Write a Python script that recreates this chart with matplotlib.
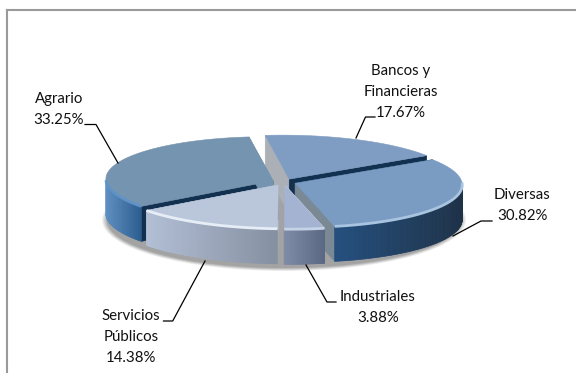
import numpy as np
import matplotlib
matplotlib.use("Agg")
import matplotlib.pyplot as plt
from matplotlib.patches import Polygon, Ellipse
from matplotlib.colors import to_rgb

categories = ["Bancos y\nFinancieras", "Diversas", "Industriales", "Servicios\nPúblicos", "Agrario"]
shares = [17.67, 30.82, 3.88, 14.38, 33.25]
value_labels = ["17.67%", "30.82%", "3.88%", "14.38%", "33.25%"]

top_colors = ["#7f9cc2", "#7a9cc2", "#a4b3d1", "#bac7da", "#7594b0"]
rim_colors = ["#8fa9cc", "#a8c4e0", "#c5d2e8", "#e6edf7", "#5f93c8"]
wall_left = ["#7f9cc2", "#24507f", "#7f8ca6", "#b3c0d6", "#5f8fc2"]
wall_right = ["#6f8cb2", "#1e3248", "#5a6884", "#858fa2", "#2a5c8e"]
start_wall = ["#aab0b6", "#12304f", "#f4f6fa", "#aab8cf", "#12304f"]
end_wall = ["#12304f", "#7b8995", "#8fa0bf", "#8f9bb0", "#7594b0"]

plt.rcParams["font.family"] = ["Lato", "DejaVu Sans"]
W, H = 576, 373
fig = plt.figure(figsize=(W / 100, H / 100), dpi=100, facecolor="white")
ax = fig.add_axes([0, 0, 1, 1])
ax.set_xlim(0, W)
ax.set_ylim(H, 0)
ax.axis("off")

CX, CY, RX, RY, DEPTH, EXPL, SKEW = 284, 182, 167, 44, 35, 0.072, 0.15
START = -6.0


def pt(theta, r=1.0, off=(0, 0), dz=0):
    t = np.radians(theta)
    dy = -r * RY * np.cos(t)
    return np.array([off[0] + CX + r * RX * np.sin(t) + SKEW * dy,
                     off[1] + CY + dy + dz])


# frame, open on the right and bottom as in the reference
ax.plot([7, 7], [H, 10], color="#9a9a9a", lw=1.5, zorder=0)
ax.plot([7, W], [10, 10], color="#9a9a9a", lw=1.5, zorder=0)

# soft ground shadow
for i, a in zip(range(6), [0.10, 0.12, 0.14, 0.16, 0.2, 0.25]):
    ax.add_patch(Ellipse((CX, CY + DEPTH + 3), 2 * (RX + 15 - i), 2 * (RY + 7 - i * 0.6),
                         fc="#777777", ec="none", alpha=a, zorder=1))

edges = START + np.cumsum([0] + shares) * 3.6
order = [0, 4, 1, 3, 2]

z = 2
for i in order:
    a0, a1 = edges[i], edges[i + 1]
    mid = np.radians((a0 + a1) / 2)
    off = (EXPL * RX * np.sin(mid), -EXPL * RY * np.cos(mid))
    apex = pt(0, 0, off)
    th = np.linspace(a0, a1, 120)

    # radial walls
    for ang, col in ((a0, start_wall[i]), (a1, end_wall[i])):
        p = pt(ang, 1, off)
        ax.add_patch(Polygon([apex, p, p + [0, DEPTH], apex + [0, DEPTH]],
                             fc=col, ec=col, lw=0.4, zorder=z))
    # outer wall with a horizontal gradient
    front = [t for t in th if np.cos(np.radians(t)) < 0.02]
    if front:
        front = np.array(front)
        c0, c1 = np.array(to_rgb(wall_left[i])), np.array(to_rgb(wall_right[i]))
        xs = [pt(t, 1, off)[0] for t in front]
        lo, hi = min(xs), max(xs)
        for t0, t1 in zip(front[:-1], front[1:]):
            p0, p1 = pt(t0, 1, off), pt(t1, 1, off)
            f = ((p0[0] + p1[0]) / 2 - lo) / max(hi - lo, 1)
            col = c0 + (c1 - c0) * f
            ax.add_patch(Polygon([p0, p1, p1 + [0, DEPTH], p0 + [0, DEPTH]],
                                 fc=col, ec=col, lw=0.5, zorder=z))
    # top face
    rim = np.array([pt(t, 1, off) for t in th])
    ax.add_patch(Polygon(np.vstack([apex, rim]), closed=True, fc=top_colors[i],
                         ec=top_colors[i], lw=0.4, zorder=z + 0.5))
    # lighter bevel on the front rim
    if len(front):
        arc = np.array([pt(t, 1, off) for t in front])
        ax.plot(arc[:, 0], arc[:, 1], color=rim_colors[i], lw=2, zorder=z + 0.6,
                solid_capstyle="butt")
    z += 1

# leader lines
leaders = {
    0: ([375, 365.5, 356], [117, 117, 138]),
    1: ([492, 481, 453], [221, 221, 236]),
    2: ([336, 327, 306], [302, 302, 265]),
    3: ([163.5, 172.7, 205], [321, 321, 261]),
    4: ([85, 96, 118], [124.5, 124.5, 163]),
}
for i, (lx, ly) in leaders.items():
    ax.plot(lx, ly, color="black", lw=0.9, zorder=20)

# labels
label_pos = [(401, 92), (522, 205.5), (378, 307.5), (131, 337), (59, 109.5)]
for i, (x, y) in enumerate(label_pos):
    ax.text(x, y, f"{categories[i]}\n{value_labels[i]}", ha="center", va="center",
            fontsize=10.8, color="#111111", linespacing=1.65, zorder=21)

fig.savefig("out.png", dpi=100, facecolor="white")
